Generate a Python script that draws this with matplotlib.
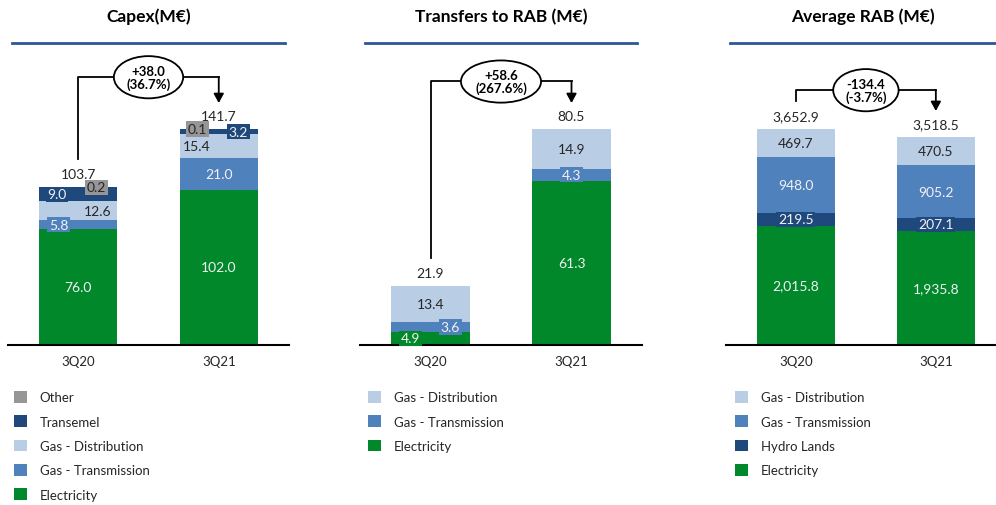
import matplotlib
matplotlib.use("Agg")
import matplotlib.pyplot as plt
from matplotlib.lines import Line2D
from matplotlib.patches import Patch

plt.rcParams['font.family'] = ['Lato', 'DejaVu Sans']

GREEN = '#00882B'
GAS_T = '#4F81BD'
GAS_D = '#B9CDE5'
NAVY = '#1F497D'
GREY = '#969696'
RULE = '#2F5597'
LIGHT_TXT = '#F2F2F2'
DARK_TXT = '#262626'

periods = ['3Q20', '3Q21']

# Capex (M€)
capex_electricity = [76.0, 102.0]
capex_gas_transmission = [5.8, 21.0]
capex_gas_distribution = [12.6, 15.4]
capex_transemel = [9.0, 3.2]
capex_other = [0.2, 0.1]
capex_totals = [103.7, 141.7]
capex_change = '+38.0\n(36.7%)'

# Transfers to RAB (M€)
transfers_electricity = [4.9, 61.3]
transfers_gas_transmission = [3.6, 4.3]
transfers_gas_distribution = [13.4, 14.9]
transfers_totals = [21.9, 80.5]
transfers_change = '+58.6\n(267.6%)'

# Average RAB (M€)
rab_electricity = [2015.8, 1935.8]
rab_hydro_lands = [219.5, 207.1]
rab_gas_transmission = [948.0, 905.2]
rab_gas_distribution = [469.7, 470.5]
rab_totals = [3652.9, 3518.5]
rab_change = '-134.4\n(-3.7%)'

W, H = 996, 506
fig = plt.figure(figsize=(W / 100, H / 100), dpi=100)


def px_axes(x0, x1, y_base, y_top):
    return fig.add_axes([x0 / W, 1 - y_base / H, (x1 - x0) / W, (y_base - y_top) / H])


def draw_panel(ax, series, totals, change, fmt, top_frac, xmax=1.5):
    # series: list of (label, values, colour, text colour, x offsets), bottom first
    x = list(range(len(periods)))
    peak = max(totals)
    bottoms = [0.0] * len(periods)
    for label, vals, col, tcol, dxs in series:
        ax.bar(x, vals, width=0.555, bottom=bottoms, color=col, label=label, zorder=2)
        for i, v in enumerate(vals):
            ax.text(x[i] + dxs[i], bottoms[i] + v / 2, fmt(v), ha='center', va='center',
                    color=tcol, fontsize=10, zorder=4,
                    bbox=dict(boxstyle='square,pad=0.12', fc=col, ec='none'))
        bottoms = [b + v for b, v in zip(bottoms, vals)]
    for i, t in enumerate(totals):
        ax.annotate(fmt(t), (x[i], t), xytext=(0, 5), textcoords='offset points',
                    ha='center', va='bottom', fontsize=10, color=DARK_TXT)

    # change bracket
    y_start = totals[0] + 0.13 * peak
    y_top = top_frac * peak
    y_end = totals[1] + 0.12 * peak
    ax.plot([x[0], x[0], x[1]], [y_start, y_top, y_top], color='black', lw=1.3, zorder=3)
    ax.annotate('', xy=(x[1], y_end), xytext=(x[1], y_top),
                arrowprops=dict(arrowstyle='-|>,head_length=0.55,head_width=0.3',
                                color='black', lw=1.3, shrinkA=0, shrinkB=0))
    ax.text((x[0] + x[1]) / 2, y_top, change, ha='center', va='center', fontsize=9.5,
            fontweight='bold', linespacing=1.05, zorder=5,
            bbox=dict(boxstyle='ellipse,pad=0.18', fc='white', ec='black', lw=1.3))

    ax.set_ylim(0, peak * 286 / 216)
    ax.set_xlim(-0.5, xmax)
    ax.set_xticks(x)
    ax.set_xticklabels(periods, fontsize=9.5, color=DARK_TXT)
    ax.tick_params(axis='x', length=0, pad=7)
    ax.set_yticks([])
    for s in ['top', 'left', 'right']:
        ax.spines[s].set_visible(False)
    ax.spines['bottom'].set_linewidth(1.5)
    ax.spines['bottom'].set_color('black')


def one_dec(v):
    return f'{v:.1f}'


def thousands(v):
    return f'{v:,.1f}'


ax1 = px_axes(8, 289, 346, 60)
draw_panel(ax1, [
    ('Electricity', capex_electricity, GREEN, LIGHT_TXT, [0, 0]),
    ('Gas - Transmission', capex_gas_transmission, GAS_T, LIGHT_TXT, [-0.14, 0]),
    ('Gas - Distribution', capex_gas_distribution, GAS_D, DARK_TXT, [0.14, -0.16]),
    ('Transemel', capex_transemel, NAVY, LIGHT_TXT, [-0.15, 0.14]),
    ('Other', capex_other, GREY, DARK_TXT, [0.13, -0.15]),
], capex_totals, capex_change, one_dec, 1.24)

ax2 = px_axes(360, 642, 346, 60)
draw_panel(ax2, [
    ('Electricity', transfers_electricity, GREEN, LIGHT_TXT, [-0.14, 0]),
    ('Gas - Transmission', transfers_gas_transmission, GAS_T, LIGHT_TXT, [0.14, 0]),
    ('Gas - Distribution', transfers_gas_distribution, GAS_D, DARK_TXT, [0, 0]),
], transfers_totals, transfers_change, one_dec, 1.22)

ax3 = px_axes(726, 996, 346, 60)
draw_panel(ax3, [
    ('Electricity', rab_electricity, GREEN, LIGHT_TXT, [0, 0]),
    ('Hydro Lands', rab_hydro_lands, NAVY, LIGHT_TXT, [0, 0]),
    ('Gas - Transmission', rab_gas_transmission, GAS_T, LIGHT_TXT, [0, 0]),
    ('Gas - Distribution', rab_gas_distribution, GAS_D, DARK_TXT, [0, 0]),
], rab_totals, rab_change, thousands, 1.18, xmax=1.43)

# titles and rules
titles = [('Capex(M€)', 12, 285), ('Transfers to RAB (M€)', 365, 637), ('Average RAB (M€)', 730, 996)]
for text, x0, x1 in titles:
    fig.text((x0 + x1) / 2 / W, 1 - 17 / H, text, ha='center', va='center',
             fontsize=12.5, fontweight='bold', color='black')
    fig.add_artist(Line2D([x0 / W, x1 / W], [1 - 44 / H, 1 - 44 / H],
                          transform=fig.transFigure, color=RULE, lw=2))

# legends (reverse stacking order)
for ax, lx in [(ax1, 14), (ax2, 368), (ax3, 735)]:
    handles, labels = ax.get_legend_handles_labels()
    handles = [Patch(facecolor=h.patches[0].get_facecolor(), edgecolor='none') for h in handles]
    ax.legend(handles[::-1], labels[::-1], loc='upper left',
              bbox_to_anchor=(lx / W, 1 - 392 / H), bbox_transform=fig.transFigure,
              frameon=False, fontsize=9.5, handlelength=0.95, handleheight=1.0,
              handletextpad=1.0, labelspacing=0.9, borderpad=0, borderaxespad=0,
              labelcolor=DARK_TXT)

fig.savefig('out.png', dpi=100)
